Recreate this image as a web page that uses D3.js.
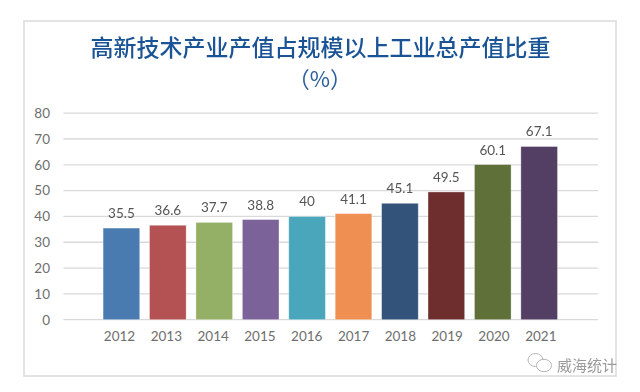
<!DOCTYPE html>
<html><head><meta charset="utf-8">
<script src="https://cdn.jsdelivr.net/npm/d3@7/dist/d3.min.js"></script>
<style>html,body{margin:0;padding:0;background:#fff}svg{display:block;filter:blur(0.35px)}
text{font-family:Lato,"Noto Sans",sans-serif}</style></head>
<body><svg id="c" width="640" height="392"></svg>
<script>
const years=["2012","2013","2014","2015","2016","2017","2018","2019","2020","2021"];
const values=[35.5,36.6,37.7,38.8,40,41.1,45.1,49.5,60.1,67.1];
const colors=["#4a7bb0","#b45153","#94b066","#7b6399","#4aa6bb","#ef8f52","#34537a","#6e2e2e","#5f7039","#533f63"];
const yTicks=[0,10,20,30,40,50,60,70,80];
const titleText="高新技术产业产值占规模以上工业总产值比重";
const unitText="（%）";
const watermark="威海统计";

const svg=d3.select("#c");
const cjk='"Noto Sans CJK SC",sans-serif';
svg.append("rect").attr("x",24).attr("y",21).attr("width",592).attr("height",355)
  .attr("fill","#fff").attr("stroke","#dcdcdc").attr("stroke-width",1.6);

const y=d3.scaleLinear().domain([0,80]).range([319.7,113.2]);
const x=d3.scaleBand().domain(years).range([98.2,562.4]).paddingInner(0.21).paddingOuter(0.105);
const xLabel=d3.scalePoint().domain(years).range([119,540.3]);

svg.append("g").selectAll("line").data(yTicks).join("line")
  .attr("x1",63.5).attr("x2",598).attr("y1",d=>y(d)).attr("y2",d=>y(d))
  .attr("stroke","#d9d9d9").attr("stroke-width",1.3);

const yAxis=d3.axisLeft(y).tickValues(yTicks).tickSize(0).tickPadding(0);
const gy=svg.append("g").attr("transform","translate(50,0)").call(yAxis);
gy.select(".domain").remove();
gy.selectAll("text").attr("fill","#6e6e6e").style("font-size","13.5px").style("font-family","Lato,sans-serif");

const xAxis=d3.axisBottom(xLabel).tickSize(0).tickPadding(0);
const gx=svg.append("g").attr("transform","translate(0,331)").call(xAxis);
gx.select(".domain").remove();
gx.selectAll("text").attr("fill","#6e6e6e").style("font-size","13.5px").style("font-family","Lato,sans-serif");

svg.append("g").selectAll("rect").data(values).join("rect")
  .attr("x",(d,i)=>x(years[i])).attr("width",x.bandwidth())
  .attr("y",d=>y(d)).attr("height",d=>y(0)-y(d))
  .attr("fill",(d,i)=>colors[i]).attr("stroke","#fff").attr("stroke-opacity",.45).attr("stroke-width",.8);

svg.append("g").selectAll("text").data(values).join("text")
  .attr("x",(d,i)=>x(years[i])+x.bandwidth()/2).attr("y",d=>y(d)-10)
  .attr("text-anchor","middle").attr("fill","#555").style("font-size","13.5px").text(d=>d);

svg.append("text").attr("x",320.5).attr("y",56).attr("text-anchor","middle")
  .attr("fill","#1b5496").style("font-family",cjk).style("font-size","23px").style("font-weight",500).text(titleText);
svg.append("text").attr("x",320).attr("y",87).attr("text-anchor","middle")
  .attr("fill","#2a5f9c").style("font-family",'"Noto Sans CJK JP",sans-serif').style("font-size","22px").text(unitText);

// watermark
const wm=svg.append("g").attr("fill","#fff").attr("stroke","#b5b5b5").attr("stroke-width",1);
wm.append("ellipse").attr("cx",535.5).attr("cy",360).attr("rx",7.5).attr("ry",6.5);
wm.append("ellipse").attr("cx",544).attr("cy",365.5).attr("rx",7.5).attr("ry",6.2);
svg.append("text").attr("x",557).attr("y",370.5).attr("fill","#9a9a9a")
  .style("font-family",cjk).style("font-size","15px").text(watermark);
</script></body></html>
